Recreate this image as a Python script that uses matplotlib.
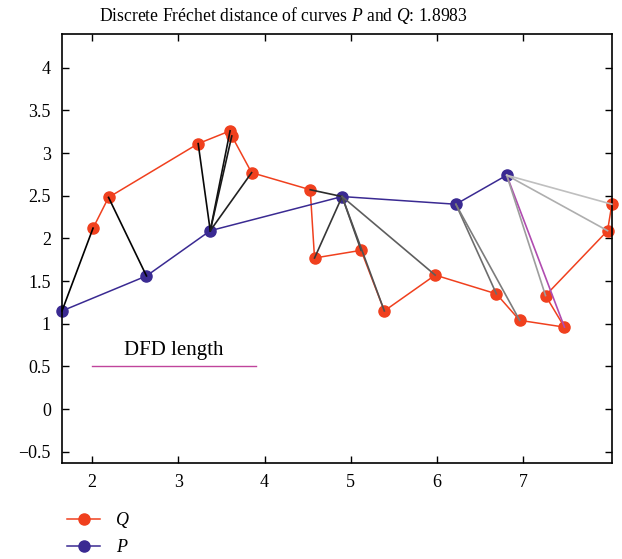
import numpy as np
import matplotlib.pyplot as plt
from matplotlib.lines import Line2D

plt.rcParams['font.family'] = ['Liberation Serif', 'DejaVu Serif']
plt.rcParams['mathtext.fontset'] = 'custom'
plt.rcParams['mathtext.it'] = 'Liberation Serif:italic'
plt.rcParams['mathtext.rm'] = 'Liberation Serif'

# curve P
p_x = [1.65, 2.63, 3.37, 4.90, 6.22, 6.81]
p_y = [1.15, 1.56, 2.09, 2.49, 2.40, 2.74]

# curve Q
q_x = [2.01, 2.19, 3.23, 3.60, 3.62, 3.85, 4.53, 4.58, 5.12, 5.39,
       5.98, 6.69, 6.96, 7.48, 7.26, 7.98, 8.03]
q_y = [2.12, 2.48, 3.11, 3.26, 3.20, 2.77, 2.57, 1.77, 1.86, 1.15,
       1.57, 1.35, 1.04, 0.96, 1.33, 2.09, 2.40]

# coupling: (index into P, index into Q)
coupling = [(0, 0), (1, 1), (2, 2), (2, 3), (2, 4), (2, 5),
            (3, 6), (3, 7), (3, 8), (3, 9), (3, 10),
            (4, 11), (4, 12),
            (5, 13), (5, 14), (5, 15), (5, 16)]
dfd = 1.8983
dfd_pair = (5, 13)

red = '#f0401e'
blue = '#3a2a92'
magenta = '#b04cb0'

fig = plt.figure(figsize=(6.22, 5.59), dpi=100)
ax = fig.add_axes([0.0997, 0.172, 0.884, 0.768])

ax.plot(q_x, q_y, color=red, lw=1.1, marker='o', ms=8, mec=red, mfc=red,
        zorder=2, clip_on=False)
ax.plot(p_x, p_y, color=blue, lw=1.1, marker='o', ms=8, mec=blue, mfc=blue,
        zorder=2, clip_on=False)

n = len(coupling)
for k, (i, j) in enumerate(coupling):
    if (i, j) == dfd_pair:
        c = magenta
    else:
        g = 0.75 * (k / (n - 1)) ** 1.5
        c = (g, g, g)
    ax.plot([p_x[i], q_x[j]], [p_y[i], q_y[j]], color=c, lw=1.2, zorder=3,
            clip_on=False)

# scale bar with the DFD length
ax.plot([2.0, 2.0 + dfd], [0.5, 0.5], color='#c0449c', lw=1.0)
ax.text(2.0 + dfd / 2, 0.57, 'DFD length', ha='center', va='bottom', fontsize=15)

ax.set_xlim(1.65, 8.03)
ax.set_ylim(-0.63, 4.4)
ax.set_xticks([2, 3, 4, 5, 6, 7])
ax.set_yticks([-0.5, 0, 0.5, 1, 1.5, 2, 2.5, 3, 3.5, 4])
ax.set_yticklabels(['\u22120.5', '0', '0.5', '1', '1.5', '2', '2.5', '3', '3.5', '4'])
ax.tick_params(direction='in', top=True, right=True, labelsize=13, length=5,
               width=1, pad=8)
for s in ax.spines.values():
    s.set_linewidth(1.2)

fig.text(0.455, 0.962, 'Discrete Fréchet distance of curves $P$ and $Q$: %.4f' % dfd,
         fontsize=12.7, ha='center', va='baseline')

handles = [Line2D([], [], color=red, lw=1.1, marker='o', ms=8, label='Q'),
           Line2D([], [], color=blue, lw=1.1, marker='o', ms=8, label='P')]
fig.legend(handles=handles, loc='upper left', bbox_to_anchor=(0.082, 0.113),
           frameon=False, prop={'size': 13, 'style': 'italic'},
           handlelength=1.8, handletextpad=0.9, labelspacing=0.55)

fig.savefig('out.png', dpi=100)
